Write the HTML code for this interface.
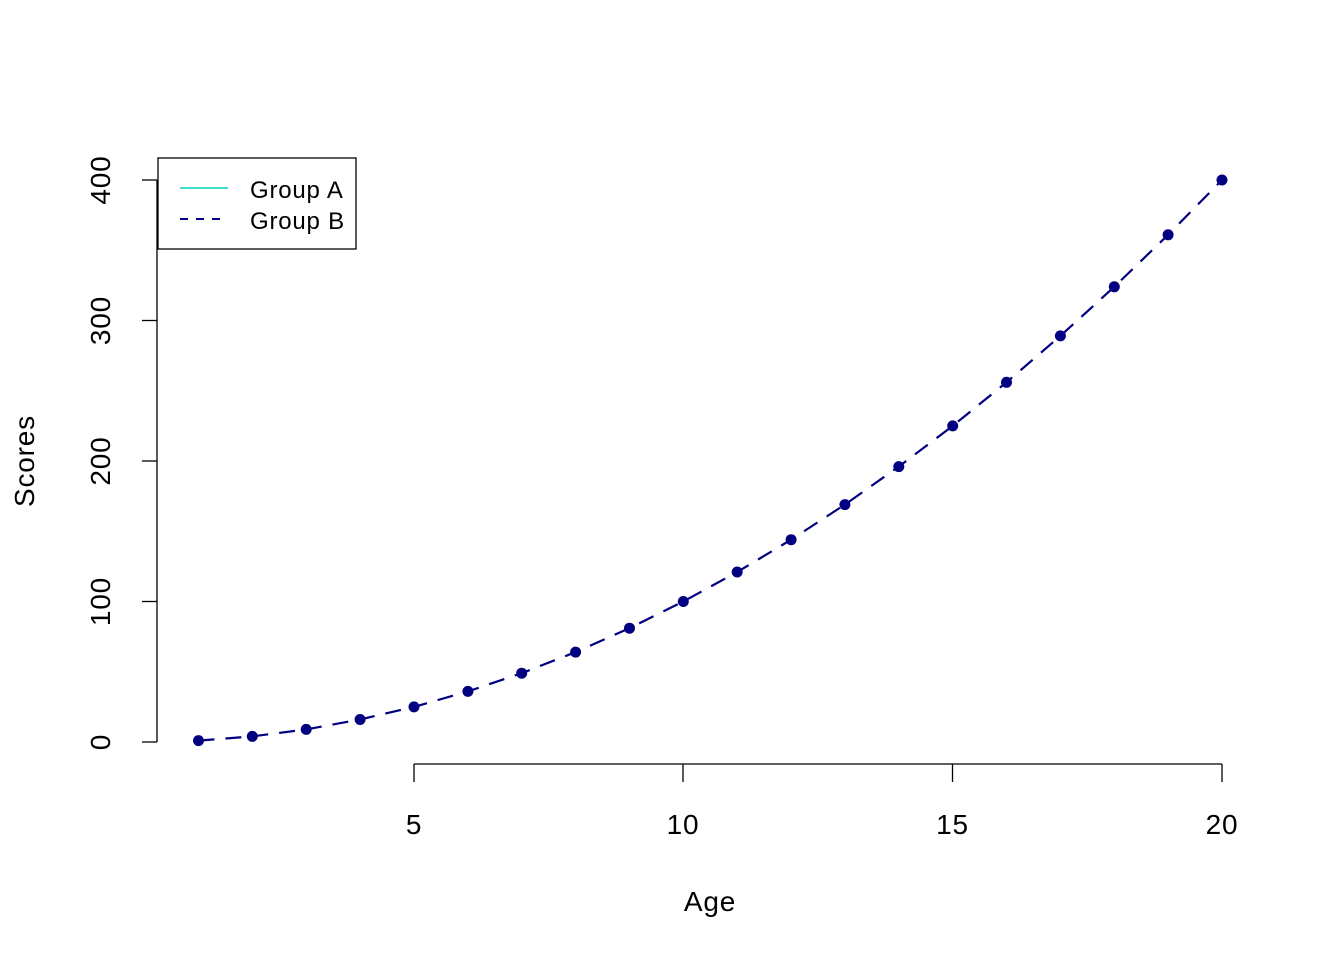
<!DOCTYPE html>
<html><head><meta charset="utf-8"><style>body{margin:0;background:#fff}svg{display:block}</style></head>
<body>
<svg width="1344" height="960" xmlns="http://www.w3.org/2000/svg" font-family="Liberation Sans, Arial, sans-serif">
<rect width="1344" height="960" fill="#fff"/>
<g stroke="#000" stroke-width="1.3" fill="none">
<line x1="157" y1="742" x2="157" y2="180"/>
<line x1="157" y1="742" x2="142" y2="742"/>
<line x1="157" y1="601.5" x2="142" y2="601.5"/>
<line x1="157" y1="461" x2="142" y2="461"/>
<line x1="157" y1="320.5" x2="142" y2="320.5"/>
<line x1="157" y1="180" x2="142" y2="180"/>
<line x1="414" y1="764" x2="1222" y2="764"/>
<line x1="414" y1="764" x2="414" y2="782"/>
<line x1="683" y1="764" x2="683" y2="782"/>
<line x1="952.5" y1="764" x2="952.5" y2="782"/>
<line x1="1222" y1="764" x2="1222" y2="782"/>
</g>
<g font-size="28" fill="#000" text-anchor="middle" letter-spacing="0.8">
<text x="414" y="834">5</text>
<text x="683" y="834">10</text>
<text x="952.5" y="834">15</text>
<text x="1222" y="834">20</text>
<text x="710" y="911">Age</text>
<text transform="translate(110,742) rotate(-90)">0</text>
<text transform="translate(110,601.5) rotate(-90)">100</text>
<text transform="translate(110,461) rotate(-90)">200</text>
<text transform="translate(110,320.5) rotate(-90)">300</text>
<text transform="translate(110,180) rotate(-90)">400</text>
<text transform="translate(34,461) rotate(-90)">Scores</text>
</g>
<polyline fill="none" stroke="#000080" stroke-width="2.2" stroke-dasharray="16,11" points="198.5,740.6 252.3,736.4 306.2,729.4 360.1,719.5 414,706.9 467.9,691.4 521.7,673.2 575.6,652.1 629.5,628.2 683.3,601.5 737.2,572 791.1,539.7 844.9,504.6 898.8,466.6 952.7,425.9 1006.5,382.3 1060.4,335.9 1114.3,286.8 1168.1,234.8 1222,180"/>
<g fill="#000080">
<circle cx="198.5" cy="740.6" r="5.5"/><circle cx="252.3" cy="736.4" r="5.5"/><circle cx="306.2" cy="729.4" r="5.5"/><circle cx="360.1" cy="719.5" r="5.5"/><circle cx="414" cy="706.9" r="5.5"/><circle cx="467.9" cy="691.4" r="5.5"/><circle cx="521.7" cy="673.2" r="5.5"/><circle cx="575.6" cy="652.1" r="5.5"/><circle cx="629.5" cy="628.2" r="5.5"/><circle cx="683.3" cy="601.5" r="5.5"/><circle cx="737.2" cy="572" r="5.5"/><circle cx="791.1" cy="539.7" r="5.5"/><circle cx="844.9" cy="504.6" r="5.5"/><circle cx="898.8" cy="466.6" r="5.5"/><circle cx="952.7" cy="425.9" r="5.5"/><circle cx="1006.5" cy="382.3" r="5.5"/><circle cx="1060.4" cy="335.9" r="5.5"/><circle cx="1114.3" cy="286.8" r="5.5"/><circle cx="1168.1" cy="234.8" r="5.5"/><circle cx="1222" cy="180" r="5.5"/>
</g>
<rect x="158" y="158" width="198" height="91" fill="#fff" stroke="#000" stroke-width="1.3"/>
<line x1="180" y1="188" x2="228" y2="188" stroke="#40E0D0" stroke-width="2"/>
<line x1="180" y1="219" x2="228" y2="219" stroke="#000080" stroke-width="2" stroke-dasharray="8,8"/>
<g font-size="24" fill="#000" letter-spacing="0.8">
<text x="250" y="198">Group A</text>
<text x="250" y="229">Group B</text>
</g>
</svg>
</body></html>
